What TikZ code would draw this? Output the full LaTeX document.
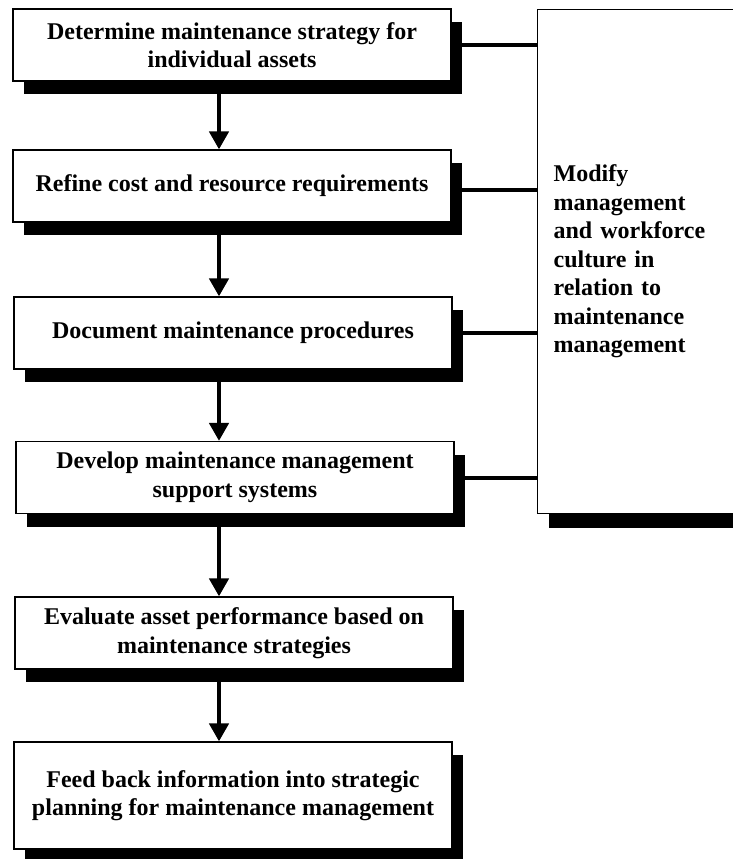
\documentclass[tikz,border=0pt]{standalone}
\usepackage{fontspec}
\setmainfont{Liberation Serif}
\usetikzlibrary{arrows.meta,shadows}

\tikzset{
  stage/.style={draw, line width=0.6pt, fill=white, minimum width=219pt,
    minimum height=36pt, align=center,
    font=\fontsize{12}{14.25}\selectfont\bfseries,
    drop shadow={shadow xshift=5.5pt, shadow yshift=-6.5pt, fill=black, opacity=1}},
  sidebox/.style={draw, line width=0.6pt, fill=white, text width=105.5pt,
    inner xsep=8pt, minimum height=252pt, align=left,
    font=\fontsize{12}{14.25}\selectfont\bfseries,
    drop shadow={shadow xshift=5.5pt, shadow yshift=-7pt, fill=black, opacity=1}},
  flow/.style={line width=2.2pt, -{Triangle[width=9.5pt,length=9pt]}},
  link/.style={line width=2pt}
}

\begin{document}
\begin{tikzpicture}[x=0.5pt, y=-0.5pt]
    \path[fill=white, use as bounding box] (0,0) rectangle (733,859);
    \clip (0,0) rectangle (733,859);
    % left column
    \node[stage] (b1) at (232,45) {Determine maintenance strategy for\\individual assets};
    \node[stage] (b2) at (232,186) {Refine cost and resource requirements};
    \node[stage] (b3) at (233,333) {Document maintenance procedures};
    \node[stage] (b4) at (235,477.5) {Develop maintenance management\\support systems};
    \node[stage] (b5) at (234,633) {Evaluate asset performance based on\\maintenance strategies};
    \node[stage, minimum height=53.5pt] (b6) at (233,795.5) {Feed back information into strategic\\planning for maintenance management};
    % right box
    \node[sidebox, anchor=north west] (side) at (537,9) {Modify\\management\\and workforce\\culture in\\relation to\\maintenance\\management};
    \coordinate (axis) at (219,0);
    \draw[flow] (b1.south -| axis) -- (b2.north -| axis);
    \draw[flow] (b2.south -| axis) -- (b3.north -| axis);
    \draw[flow] (b3.south -| axis) -- (b4.north -| axis);
    \draw[flow] (b4.south -| axis) -- (b5.north -| axis);
    \draw[flow] (b5.south -| axis) -- (b6.north -| axis);
    \draw[link] (b1.east) -- (b1.east -| side.west);
    \draw[link] ([yshift=-2pt]b2.east) -- ([yshift=-2pt]b2.east -| side.west);
    \draw[link] (b3.east) -- (b3.east -| side.west);
    \draw[link] (b4.east) -- (b4.east -| side.west);
  \end{tikzpicture}
\end{document}
